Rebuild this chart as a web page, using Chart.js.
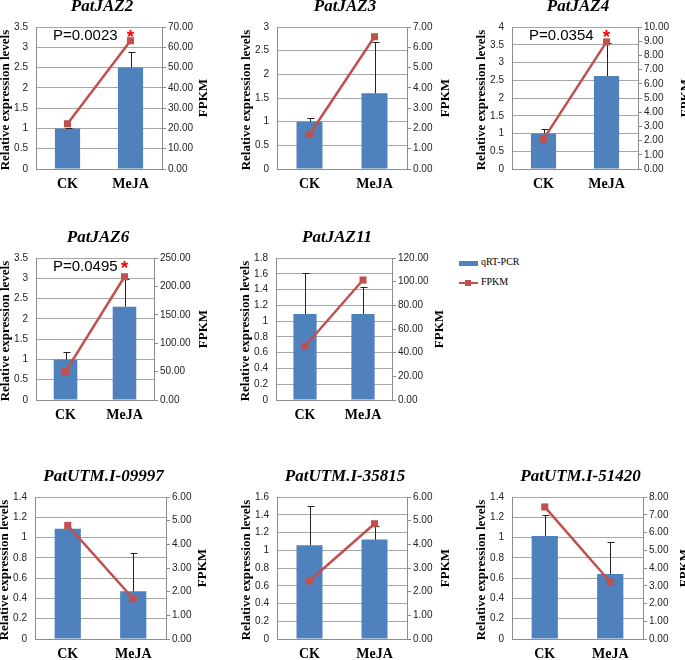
<!DOCTYPE html>
<html>
<head>
<meta charset="utf-8">
<script src="https://cdn.jsdelivr.net/npm/chart.js@4.4.0/dist/chart.umd.min.js"></script>
<style>
  body { margin: 0; width: 685px; height: 660px; overflow: hidden; background: #fff; position: relative; }
  canvas { position: absolute; }
  .leg { position: absolute; font: 10px "Liberation Serif", serif; color: #000; }
  .leg-bar { position: absolute; left: 459px; top: 261px; width: 19px; height: 5px; background: #4F81BD; }
  .leg-line { position: absolute; left: 459px; top: 282px; width: 19px; height: 2px; background: #C0504D; }
  .leg-mark { position: absolute; left: 465px; top: 280px; width: 6px; height: 6px; background: #C0504D; }
</style>
</head>
<body>
<div class="leg-bar"></div>
<div class="leg" style="left:481px;top:256px">qRT-PCR</div>
<div class="leg-line"></div>
<div class="leg-mark"></div>
<div class="leg" style="left:481px;top:276px">FPKM</div>

<script>
// datos
const categories = ['CK', 'MeJA'];
const genes = ['PatJAZ2', 'PatJAZ3', 'PatJAZ4', 'PatJAZ6', 'PatJAZ11',
  'PatUTM.I-09997', 'PatUTM.I-35815', 'PatUTM.I-51420'];

const qpcr = [[1, 2.5], [1, 1.6], [1, 2.62], [1, 2.3], [1.09, 1.09],
  [1.088, 0.47], [1.056, 1.12], [1.015, 0.64]];
const qpcrErr = [[0.02, 0.38], [0.08, 1.08], [0.12, 0.92], [0.18, 0.68], [0.52, 0.34],
  [0, 0.38], [0.44, 0.15], [0.21, 0.32]];
const fpkm = [[22.3, 63.2], [1.70, 6.52], [2.1, 8.95], [50, 217], [45.4, 101.4],
  [4.8, 1.70], [2.46, 4.87], [7.44, 3.21]];

const leftMax = [3.5, 3, 4, 3.5, 1.8, 1.4, 1.6, 1.4];
const leftStep = [0.5, 0.5, 0.5, 0.5, 0.2, 0.2, 0.2, 0.2];
const rightMax = [70, 7, 10, 250, 120, 6, 6, 8];
const rightStep = [10, 1, 1, 50, 20, 1, 1, 1];
const pValues = ['P=0.0023', null, 'P=0.0354', 'P=0.0495', null, null, null, null];

// posicion de cada grafico [izq, arriba, der, abajo] del area de datos
const plotBoxes = [
  [36, 27, 162, 169], [277, 27, 407, 169], [512, 27, 638, 169],
  [36, 258, 154, 400], [276, 258, 392, 400],
  [35, 497, 166, 639], [277, 497, 407, 639], [512, 497, 643, 639]
];
const fpkmDx = [42, 39, 48, 50, 48, 37, 39, 42];

const barColor = '#4F81BD';
const lineColor = '#C0504D';
const gridColor = '#a6a6a6';
const axisColor = '#8c8c8c';
const tickFont = { family: '"Liberation Sans", Arial, sans-serif', size: 10 };
const serif = '"Liberation Serif", "Times New Roman", serif';

const padLeft = 40, padRight = 60, padTop = 32, padBottom = 26;

// barras de error solo hacia arriba
const errorBars = {
  id: 'errorBars',
  afterDatasetDraw(chart, args, opts) {
    if (args.index !== 0) return;
    const ctx = chart.ctx;
    const y = chart.scales.y;
    const meta = chart.getDatasetMeta(0);
    ctx.save();
    ctx.strokeStyle = '#222';
    ctx.lineWidth = 1;
    meta.data.forEach((bar, i) => {
      const e = opts.values[i];
      if (!e) return;
      const v = chart.data.datasets[0].data[i];
      const yTop = Math.round(y.getPixelForValue(v + e)) + 0.5;
      const x = Math.round(bar.x) + 0.5;
      ctx.beginPath();
      ctx.moveTo(x, bar.y);
      ctx.lineTo(x, yTop);
      ctx.moveTo(x - 3, yTop);
      ctx.lineTo(x + 4, yTop);
      ctx.stroke();
    });
    ctx.restore();
  }
};

// titulo, etiquetas de ejes, valor P y asterisco
const decor = {
  id: 'decor',
  afterDraw(chart, args, opts) {
    const ctx = chart.ctx;
    const a = chart.chartArea;
    ctx.save();
    ctx.fillStyle = '#000';
    ctx.textAlign = 'center';
    ctx.textBaseline = 'middle';
    ctx.font = 'italic bold 17px ' + serif;
    ctx.fillText(opts.title, (a.left + a.right) / 2 + 3, a.top - 20);

    ctx.font = 'bold 13px ' + serif;
    ctx.save();
    ctx.translate(a.left - 30, (a.top + a.bottom) / 2 + 2);
    ctx.rotate(-Math.PI / 2);
    ctx.fillText('Relative expression levels', 0, 0);
    ctx.restore();
    ctx.save();
    ctx.translate(a.right + opts.fpkmDx, (a.top + a.bottom) / 2);
    ctx.rotate(-Math.PI / 2);
    ctx.fillText('FPKM', 0, 0);
    ctx.restore();

    if (opts.pValue) {
      ctx.textAlign = 'left';
      ctx.font = '15px "Liberation Sans", Arial, sans-serif';
      ctx.fillText(opts.pValue, a.left + 17, a.top + 9);
      const xm = chart.scales.x.getPixelForValue(1);
      ctx.textAlign = 'center';
      ctx.textBaseline = 'alphabetic';
      ctx.fillStyle = '#ff0000';
      ctx.font = 'bold 19px "Liberation Sans", Arial, sans-serif';
      ctx.fillText('*', xm, a.top + 16);
    }
    ctx.restore();
  }
};

genes.forEach((gene, i) => {
  const [L, T, R, B] = plotBoxes[i];
  const canvas = document.createElement('canvas');
  const w = (R - L) + padLeft + padRight;
  const h = (B - T) + padTop + padBottom;
  canvas.width = w;
  canvas.height = h;
  canvas.style.left = (L - padLeft) + 'px';
  canvas.style.top = (T - padTop) + 'px';
  canvas.style.width = w + 'px';
  canvas.style.height = h + 'px';
  document.body.appendChild(canvas);

  new Chart(canvas.getContext('2d'), {
    type: 'bar',
    data: {
      labels: categories,
      datasets: [{
        label: 'qRT-PCR',
        data: qpcr[i],
        backgroundColor: barColor,
        barPercentage: 0.4,
        categoryPercentage: 1,
        yAxisID: 'y',
        order: 1
      }, {
        type: 'line',
        label: 'FPKM',
        data: fpkm[i],
        borderColor: lineColor,
        backgroundColor: lineColor,
        borderWidth: 2.5,
        pointStyle: 'rect',
        pointRadius: 5,
        pointBorderWidth: 0,
        yAxisID: 'y1',
        order: 0
      }]
    },
    options: {
      responsive: false,
      animation: false,
      layout: { padding: { top: padTop, left: 0, right: 0, bottom: 0 } },
      plugins: {
        legend: { display: false },
        tooltip: { enabled: false },
        errorBars: { values: qpcrErr[i] },
        decor: { title: gene, pValue: pValues[i], fpkmDx: fpkmDx[i] }
      },
      scales: {
        x: {
          grid: { display: false, drawTicks: false },
          border: { color: axisColor },
          ticks: { color: '#000', padding: 7, font: { family: serif, size: 14, weight: 'bold' } },
          afterFit: s => { s.height = padBottom; }
        },
        y: {
          position: 'left',
          min: 0,
          max: leftMax[i],
          ticks: { stepSize: leftStep[i], color: '#222', padding: 8, font: tickFont,
            autoSkip: false, callback: v => String(parseFloat(v.toFixed(2))) },
          grid: { color: gridColor, drawTicks: false },
          border: { color: axisColor },
          afterFit: s => { s.width = padLeft; }
        },
        y1: {
          position: 'right',
          min: 0,
          max: rightMax[i],
          ticks: { stepSize: rightStep[i], color: '#222', padding: 2, font: tickFont,
            autoSkip: false, callback: v => v.toFixed(2) },
          grid: { drawOnChartArea: false, color: axisColor, tickLength: 4 },
          border: { color: axisColor },
          afterFit: s => { s.width = padRight; }
        }
      }
    },
    plugins: [errorBars, decor]
  });
});
</script>
</body>
</html>
